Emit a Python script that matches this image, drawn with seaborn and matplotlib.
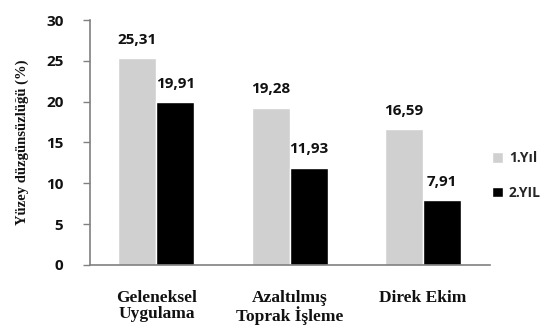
import matplotlib
matplotlib.use("Agg")
import matplotlib.pyplot as plt
import seaborn as sns
import pandas as pd

categories = ["Geleneksel\nUygulama", "Azaltılmış\nToprak İşleme", "Direk Ekim"]
series = ["1.Yıl", "2.YIL"]
year1 = [25.31, 19.28, 16.59]
year2 = [19.91, 11.93, 7.91]
yticks = [0, 5, 10, 15, 20, 25, 30]

df = pd.DataFrame({
    "kategori": categories * 2,
    "seri": [series[0]] * 3 + [series[1]] * 3,
    "deger": year1 + year2,
})

sns.set_theme(style="white")
sans = ["Open Sans", "DejaVu Sans"]
serif = ["Liberation Serif", "DejaVu Serif"]

fig = plt.figure(figsize=(5.51, 3.29), dpi=100)
ax = fig.add_axes([0.163, 0.195, 0.726, 0.744])

palette = {series[0]: "#d0d0d0", series[1]: "#000000"}
sns.barplot(data=df, x="kategori", y="deger", hue="seri", palette=palette,
            width=0.57, saturation=1, ax=ax, legend=True)

for cont in ax.containers:
    labels = [f"{v:.2f}".replace(".", ",") for v in cont.datavalues]
    ax.bar_label(cont, labels=labels, padding=8, fontsize=11,
                 fontweight="bold", family=sans, color="#111111")

ax.set_ylim(0, 30)
ax.set_yticks(yticks)
ax.set_yticklabels([str(t) for t in yticks], fontsize=11, fontweight="bold",
                   family=sans, color="#111111")
ax.set_xlabel("")
ax.set_ylabel("Yüzey düzgünsüzlüğü (%)", fontsize=10.5, fontweight="bold",
              family=serif, labelpad=12, color="#111111")
ax.set_xticks(range(3))
ax.set_xticklabels(categories, fontsize=12.5, fontweight="bold", family=serif,
                   linespacing=1.05, color="#111111")
ax.tick_params(axis="x", length=0, pad=18)
ax.tick_params(axis="y", length=5, width=1, color="#808080", direction="out",
               left=True, pad=14)

for s in ["top", "right"]:
    ax.spines[s].set_visible(False)
ax.spines["left"].set_color("#808080")
ax.spines["bottom"].set_color("#808080")
ax.spines["left"].set_linewidth(1.2)
ax.spines["bottom"].set_linewidth(1.2)
ax.set_xlim(-0.5, 2.5)

leg = ax.legend(loc="center left", bbox_to_anchor=(0.975, 0.365), frameon=False,
                prop={"family": sans, "weight": "bold", "size": 10},
                handlelength=0.8, handleheight=0.8, labelspacing=1.5,
                handletextpad=0.4)

fig.savefig("out.png", dpi=100)
